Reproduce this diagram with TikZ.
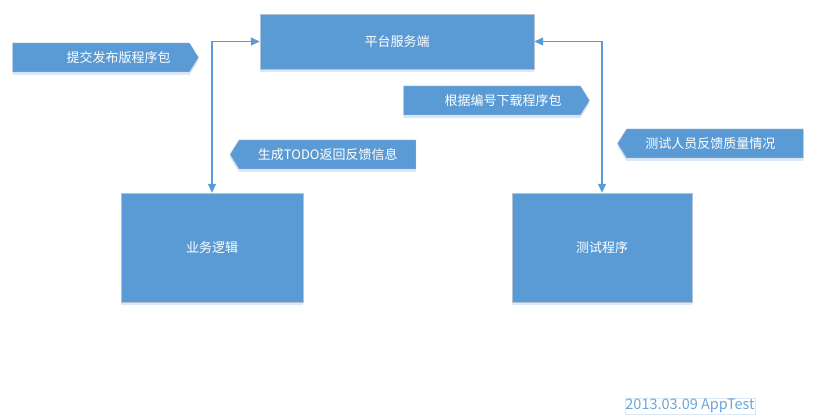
\documentclass[tikz,border=0pt]{standalone}
\usepackage{fontspec}
\setmainfont{Noto Sans CJK SC}
\usepackage{xcolor}
\definecolor{bblue}{HTML}{5B9BD5}
\definecolor{bedge}{HTML}{B3C3D6}
\definecolor{bshade}{HTML}{DDE8F5}
\usetikzlibrary{positioning}
\usetikzlibrary{shapes.symbols}
\usetikzlibrary{shadows}
\usetikzlibrary{arrows.meta}

\tikzset{
	block/.style={draw=bedge, fill=bblue, text=white, inner sep=0pt,
		drop shadow={shadow xshift=0pt, shadow yshift=-3pt, fill=bshade, opacity=1}},
	tagr/.style={block, shape=signal, signal to=east, signal pointer angle=116,
		minimum width=186pt, minimum height=29pt},
	tagl/.style={tagr, signal to=west},
	tagtxt/.style={text=white, inner sep=0pt},
	link/.style={bblue, line width=1.2pt, {Triangle[length=9pt,width=8pt]}-{Triangle[length=9pt,width=8pt]}}
}

\begin{document}
\begin{tikzpicture}[x=1pt,y=-1pt,font=\fontsize{13}{15}\selectfont]
	\useasboundingbox (0,0) rectangle (814,417);
	% boxes
	\node[block, minimum width=274pt, minimum height=55pt] (server) at (397,41.5) {平台服务端};
	\node[block, minimum width=182pt, minimum height=109pt] (logic) at (212,247.5) {业务逻辑};
	\node[block, minimum width=180pt, minimum height=109pt] (test) at (602,247.5) {测试程序};
	% tags
	\node[tagr] (submit) at (101,57.5) {};
	\node[tagr] (fetch) at (492,100.5) {};
	\node[tagl] (todo) at (327.5,154.5) {};
	\node[tagl] (report) at (715,143.5) {};
	\node[tagtxt, anchor=east] (submit-txt) at ([xshift=-28pt]submit.east) {提交发布版程序包};
	\node[tagtxt, anchor=east] (fetch-txt) at ([xshift=-28pt]fetch.east) {根据编号下载程序包};
	\node[tagtxt, anchor=west] (todo-txt) at ([xshift=28pt]todo.west) {生成TODO返回反馈信息};
	\node[tagtxt, anchor=west] (report-txt) at ([xshift=28pt]report.west) {测试人员反馈质量情况};
	% links
	\draw[link] (server.west) -| (logic.north);
	\draw[link] (server.east) -| (test.north);
	% stamp
	\node[draw=bshade, text=bblue!90, inner sep=0pt, minimum width=130pt, minimum height=16pt, font=\fontsize{14.5}{16}\selectfont] (stamp) at (690,406) {2013.03.09 AppTest};
\end{tikzpicture}
\end{document}
